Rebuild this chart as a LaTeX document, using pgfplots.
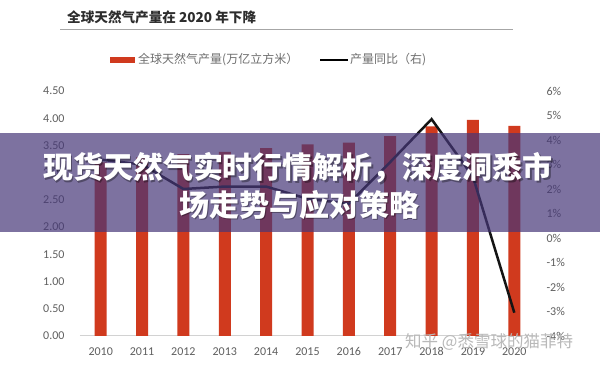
\documentclass[border=0pt]{standalone}
\usepackage{fontspec}
\setmainfont{Carlito}
\newfontfamily\cjk{Noto Sans CJK SC}
\usepackage{pgfplots}
\pgfplotsset{compat=1.18}
\definecolor{barred}{RGB}{208,58,30}
\definecolor{tickgray}{RGB}{95,95,95}
\definecolor{titlegray}{RGB}{45,45,45}
\definecolor{leggray}{RGB}{110,110,110}
\definecolor{band}{RGB}{70,55,120}
\begin{document}
\begin{tikzpicture}[x=1pt,y=1pt]
\useasboundingbox[fill=white] (0,0) rectangle (600,367);
% title
\node[anchor=west,inner sep=0pt,text=titlegray,font=\cjk\bfseries\fontsize{13.6}{16}\selectfont] at (67,350) {全球天然气产量在 2020 年下降};
\draw[gray!70,line width=0.8pt] (60,338) -- (513,338);
% legend
\fill[barred] (110,304) rectangle (135,309.5);
\node[anchor=west,inner sep=0pt,text=leggray,font=\cjk\fontsize{12}{14}\selectfont] at (138,307) {全球天然气产量(万亿立方米）};
\draw[black,line width=2.5pt] (320,307) -- (348,307);
\node[anchor=west,inner sep=0pt,text=leggray,font=\cjk\fontsize{12}{14}\selectfont] at (350,307) {产量同比（右)};
% bars axis
\begin{axis}[
  at={(80pt,31pt)}, anchor=south west,
  scale only axis, width=455pt, height=245pt,
  xmin=2009.5, xmax=2020.5, ymin=0, ymax=4.5,
  separate axis lines,
  axis x line*=bottom, axis y line*=left,
  x axis line style={draw=gray!35,line width=1pt,-},
  y axis line style={draw=none},
  tick style={draw=none},
  xtick={2010,...,2020},
  ytick={0,0.5,...,4.5},
  /pgf/number format/assume math mode=true,
  xticklabel style={/pgf/number format/1000 sep={},text=tickgray,font=\fontsize{12}{14}\selectfont,yshift=-8pt},
  yticklabel style={/pgf/number format/fixed,/pgf/number format/fixed zerofill,/pgf/number format/precision=2,text=tickgray,font=\fontsize{12}{14}\selectfont,xshift=-12pt},
  clip=false,
]
\addplot[ybar,bar width=12pt,fill=barred,draw=none] coordinates {
 (2010,3.19) (2011,3.28) (2012,3.34) (2013,3.38) (2014,3.45) (2015,3.52)
 (2016,3.55) (2017,3.67) (2018,3.85) (2019,3.97) (2020,3.86)};
\end{axis}
% line axis
\begin{axis}[
  at={(80pt,31pt)}, anchor=south west,
  scale only axis, width=455pt, height=245pt,
  xmin=2009.5, xmax=2020.5, ymin=-4, ymax=6,
  axis x line=none, axis y line*=right,
  y axis line style={draw=none},
  tick style={draw=none},
  ytick={-4,...,6},
  /pgf/number format/assume math mode=true,
  yticklabel={\pgfmathprintnumber{\tick}\%},
  yticklabel style={text=tickgray,font=\fontsize{12}{14}\selectfont,xshift=8pt},
  clip=false,
]
\addplot[black!92,line width=2.5pt,line join=miter,no marks] coordinates {
 (2010,3.2) (2011,3.0) (2012,2.0) (2013,2.1) (2014,2.1) (2015,1.6)
 (2016,1.4) (2017,3.1) (2018,4.85) (2019,2.5) (2020,-3.05)};
\end{axis}
% watermark
\node[anchor=west,inner sep=0pt,text=gray!55,font=\cjk\fontsize{16.5}{18}\selectfont] at (405,25) {知乎 @悉雪球的猫菲特};
% overlay band
\fill[band,opacity=0.7] (0,135) rectangle (600,234);
\node[text=black,opacity=0.35,font=\cjk\bfseries\fontsize{30}{32}\selectfont] at (299.5,197.5) {现货天然气实时行情解析，深度洞悉市};
\node[text=black,opacity=0.35,font=\cjk\bfseries\fontsize{30}{32}\selectfont] at (300.5,160.5) {场走势与应对策略};
\node[text=white,font=\cjk\bfseries\fontsize{30}{32}\selectfont] at (298,199) {现货天然气实时行情解析，深度洞悉市};
\node[text=white,font=\cjk\bfseries\fontsize{30}{32}\selectfont] at (299,162) {场走势与应对策略};
\end{tikzpicture}
\end{document}
